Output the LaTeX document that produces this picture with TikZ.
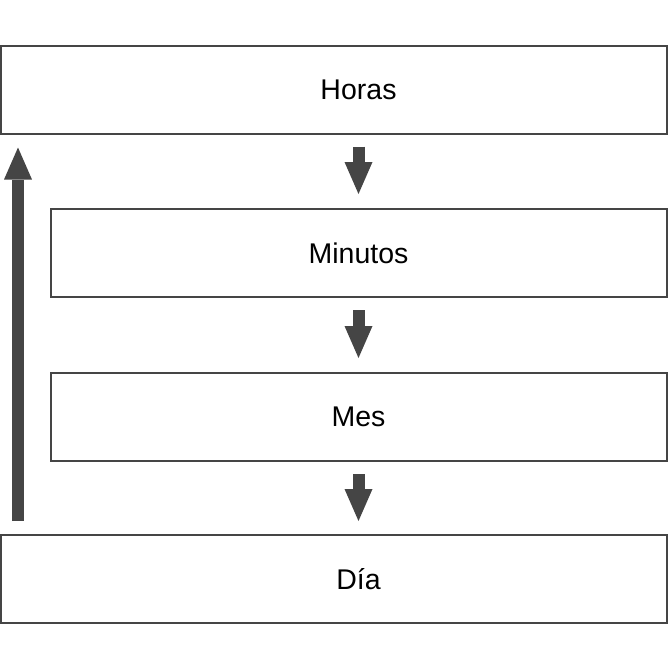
\documentclass[tikz,border=0pt]{standalone}
\usepackage{fontspec}
\setmainfont{Liberation Sans}
\usetikzlibrary{arrows.meta}
\definecolor{boxgray}{HTML}{454545}
\tikzset{
  stage/.style={draw=boxgray,line width=2pt,fill=white,minimum height=88pt,
    minimum width=616pt,inner sep=0pt,font=\fontsize{28.5}{32}\selectfont},
  widestage/.style={stage,minimum width=666pt,execute at begin node=\hspace*{49pt}},
  blockarrow/.style={draw=boxgray,line width=12pt,
    -{Triangle[width=28pt,length=32pt,line width=0pt]}}
}
\begin{document}
\begin{tikzpicture}[x=1pt,y=-1pt]
 		\useasboundingbox (0,0) rectangle (668,672);
 		\node[widestage] (horas) at (334,89.5){Horas};
 		\node[stage] (minutos) at (358.5,253){Minutos};
 		\node[stage] (mes) at (358.5,417){Mes};
 		\node[widestage] (dia) at (334,579){Día};
 		\draw[blockarrow,shorten <=12pt,shorten >=14pt] (horas.south -| minutos) -- (minutos);
 		\draw[blockarrow,shorten <=12pt,shorten >=14pt] (minutos) -- (mes);
 		\draw[blockarrow,shorten <=12pt,shorten >=13pt] (mes) -- (dia.north -| mes);
 		\draw[blockarrow,shorten <=13pt,shorten >=13pt] ([xshift=18pt]dia.north west) -- ([xshift=18pt]horas.south west);
 	\end{tikzpicture}
\end{document}
